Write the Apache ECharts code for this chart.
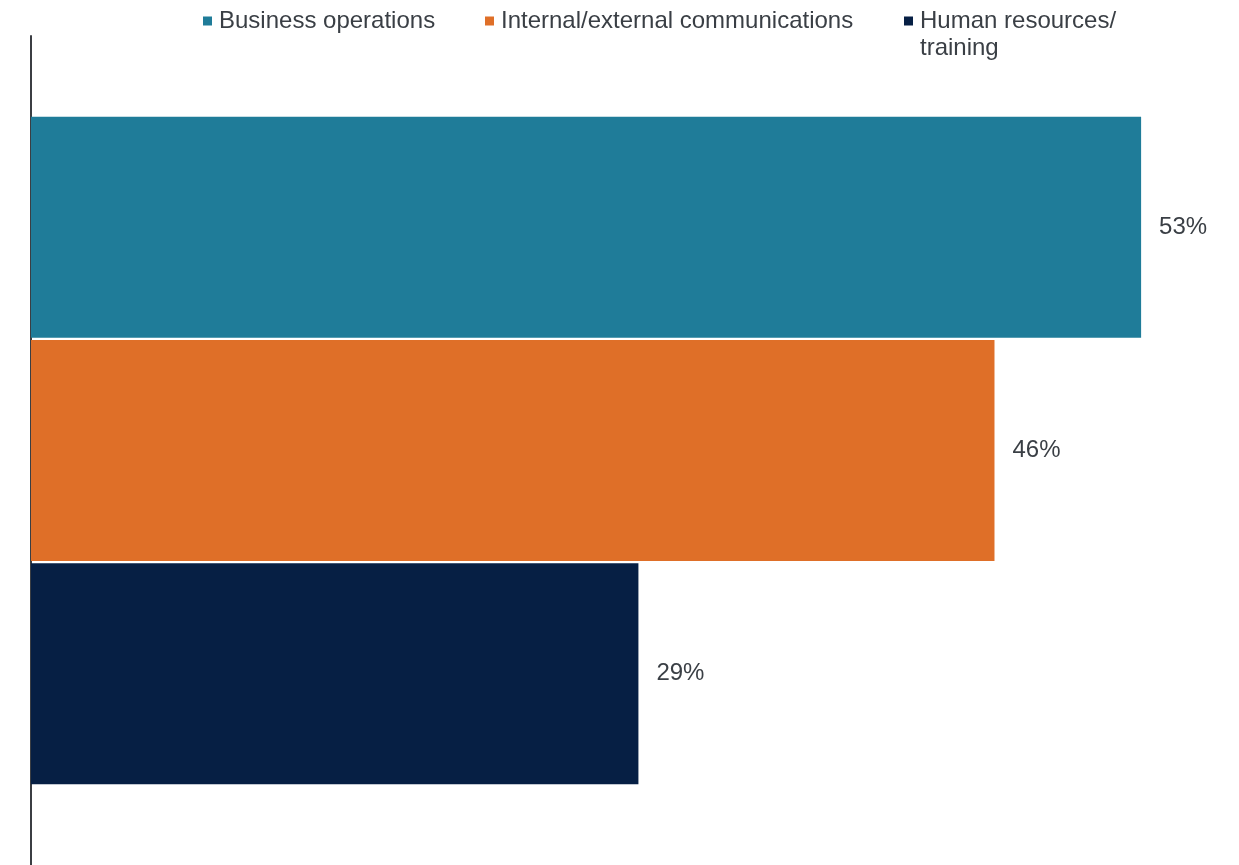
<!DOCTYPE html>
<html>
<head>
<meta charset="utf-8">
<script src="https://cdn.jsdelivr.net/npm/echarts@6/dist/echarts.min.js"></script>
<style>
  html, body { margin: 0; padding: 0; background: #ffffff; }
  #chart { width: 1239px; height: 865px; }
</style>
</head>
<body>
<div id="chart"></div>
<script>
// Share of respondents by area of use
const seriesNames = ['Business operations', 'Internal/external communications', 'Human resources/training'];
const seriesValues = [53, 46, 29];
const seriesColors = ['#1f7c99', '#df6f28', '#061f44'];
const categories = [''];

const FONT = '"Liberation Sans", Arial, sans-serif';
const TEXT_COLOR = '#3a3f45';

const chart = echarts.init(document.getElementById('chart'), null, { renderer: 'canvas' });

const legendLeft = [203, 485, 904];

// The last legend entry wraps onto two lines; a blank leading line keeps
// the marker level with the first line of text.
const legends = seriesNames.map((name, i) => {
  const multiLine = name === 'Human resources/training';
  return {
    data: [name],
    left: legendLeft[i],
    top: multiLine ? -19.5 : 7.5,
    padding: 0,
    icon: 'rect',
    itemWidth: 9,
    itemHeight: 9,
    selectedMode: false,
    formatter: multiLine ? ' \nHuman resources/\ntraining' : '{name}',
    textStyle: {
      fontFamily: FONT,
      fontSize: 24,
      color: TEXT_COLOR,
      lineHeight: 27,
      padding: [0, 0, 0, 2]
    }
  };
});

const series = seriesNames.map((name, i) => ({
  name: name,
  type: 'bar',
  data: [seriesValues[i]],
  barWidth: 221,
  barGap: '1%',
  itemStyle: { color: seriesColors[i] },
  label: {
    show: true,
    position: 'right',
    distance: 18,
    formatter: '{c}%',
    fontFamily: FONT,
    fontSize: 24,
    color: TEXT_COLOR
  }
}));

chart.setOption({
  animation: false,
  backgroundColor: '#ffffff',
  legend: legends,
  grid: { left: 31, right: 56, top: 36, bottom: 0, containLabel: false },
  xAxis: {
    type: 'value',
    min: 0,
    max: 55,
    show: false
  },
  yAxis: {
    type: 'category',
    data: categories,
    inverse: true,
    axisLine: { show: true, lineStyle: { color: '#3b3e43', width: 2 } },
    axisTick: { show: false },
    axisLabel: { show: false },
    splitLine: { show: false }
  },
  series: series
});
</script>
</body>
</html>
